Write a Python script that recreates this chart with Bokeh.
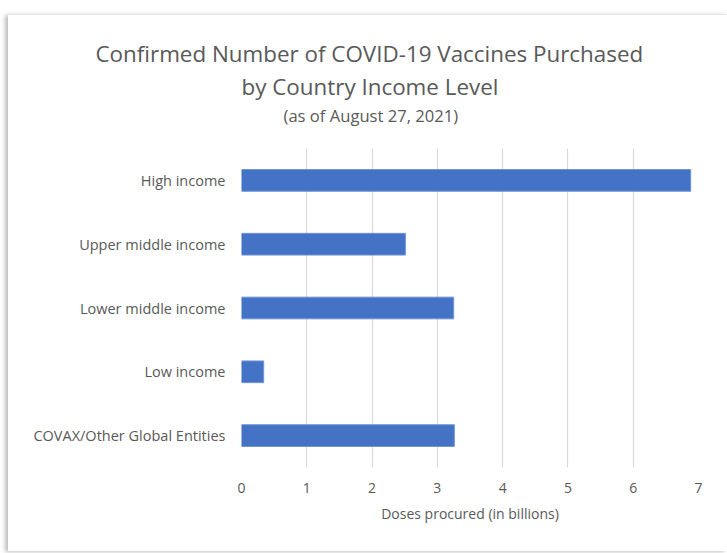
from bokeh.plotting import figure
from bokeh.models import Title, FixedTicker
from bokeh.embed import file_html
from bokeh.resources import INLINE

categories = ["High income", "Upper middle income", "Lower middle income",
              "Low income", "COVAX/Other Global Entities"]
doses = [6.88, 2.51, 3.25, 0.34, 3.26]
x_ticks = [0, 1, 2, 3, 4, 5, 6, 7]

title_1 = "Confirmed Number of COVID-19 Vaccines Purchased"
title_2 = "by Country Income Level"
subtitle = "(as of August 27, 2021)"
x_label = "Doses procured (in billions)"

FONT = "Open Sans"
GRAY = "#595959"

p = figure(width=719, height=537, y_range=list(reversed(categories)),
           x_range=(0, 7), output_backend="svg", toolbar_location=None,
           min_border_left=233, min_border_right=29, min_border_top=133,
           min_border_bottom=85)
p.margin = (14, 0, 0, 8)
p.styles = {"box-shadow": "-3px 1px 4px rgba(0,0,0,0.25)",
            "border-top": "1px solid #e6e6e6"}
p.outline_line_color = None

p.hbar(y=categories, right=doses, left=0, height=0.34,
       fill_color="#4472C4", line_color="#6f93d6", line_width=1)

p.xaxis.ticker = FixedTicker(ticks=x_ticks)
p.xaxis.axis_line_color = None
p.xaxis.major_tick_line_color = None
p.xaxis.minor_tick_line_color = None
p.xaxis.major_label_text_font = FONT
p.xaxis.major_label_text_font_size = "14px"
p.xaxis.major_label_text_color = GRAY
p.xaxis.major_label_standoff = 9
p.xaxis.axis_label = x_label
p.xaxis.axis_label_text_font = FONT
p.xaxis.axis_label_text_font_size = "14px"
p.xaxis.axis_label_text_font_style = "normal"
p.xaxis.axis_label_text_color = GRAY
p.xaxis.axis_label_standoff = 8

p.yaxis.axis_line_color = None
p.yaxis.major_tick_line_color = None
p.yaxis.minor_tick_line_color = None
p.yaxis.major_label_text_font = FONT
p.yaxis.major_label_text_font_size = "14.5px"
p.yaxis.major_label_text_color = GRAY
p.yaxis.major_label_standoff = 10

p.ygrid.grid_line_color = None
p.xgrid.grid_line_color = "#d9d9d9"
p.xgrid.grid_line_width = 1.2

# p.title is drawn outermost; p.above items stack upward from the frame
p.title.text = title_1
p.title.align = "left"
p.title.offset = -146
p.title.text_font = FONT
p.title.text_font_size = "22.4px"
p.title.text_font_style = "normal"
p.title.text_color = GRAY
p.title.standoff = 0

# spacer between plot frame and subtitle
p.add_layout(Title(text=" ", text_font_size="1px", standoff=19), "above")
p.add_layout(Title(text=subtitle, align="left", offset=42, text_font=FONT,
                   text_font_size="16.6px", text_font_style="normal",
                   text_color=GRAY, standoff=0), "above")
p.add_layout(Title(text=title_2, align="left", offset=0, text_font=FONT,
                   text_font_size="22.4px", text_font_style="normal",
                   text_color=GRAY, standoff=0), "above")

open("out.html", "w").write(file_html(p, INLINE))
